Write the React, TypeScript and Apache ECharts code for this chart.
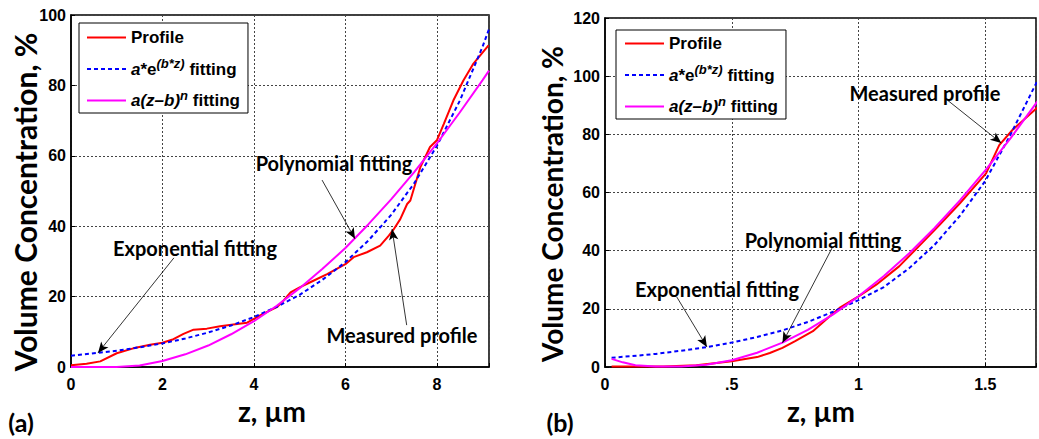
import React, { useEffect, useRef } from "react";
import * as echarts from "echarts";

// ---------- Panel (a) data ----------
const profileAZ = [0, 0.34, 0.64, 1.0, 1.36, 1.73, 2.0, 2.24, 2.46, 2.68, 2.97, 3.26, 3.55, 3.85, 4.0, 4.2, 4.5, 4.65, 4.8, 5.0, 5.3, 5.6, 6.0, 6.18, 6.47, 6.76, 6.95, 7.05, 7.2, 7.35, 7.42, 7.64, 7.85, 8.0, 8.15, 8.36, 8.58, 8.8, 8.98, 9.13];
const profileAV = [0.5, 0.9, 1.6, 3.9, 5.3, 6.3, 6.9, 7.9, 9.4, 10.6, 10.9, 11.6, 12.1, 12.6, 13.7, 15.1, 17, 18.9, 21.2, 22.6, 24.5, 26.4, 29.2, 31.2, 32.6, 34.5, 37.3, 39, 42, 46.3, 47.3, 56.8, 62.5, 64.4, 69, 75.7, 81.4, 86.2, 89, 91.4];
const fitAZ = [0, 0.5, 1, 1.5, 2, 2.5, 3, 3.5, 4, 4.5, 5, 5.5, 6, 6.5, 7, 7.5, 8, 8.5, 9, 9.14];
const expAV = [3.2, 3.9, 4.6, 5.6, 6.7, 8.1, 9.8, 11.8, 14.2, 17.1, 20.5, 24.8, 29.8, 35.9, 43.2, 52.1, 62.8, 75.6, 91, 96];
const polyAV = [0, 0, 0, 0.45, 1.7, 3.6, 6.1, 9.3, 13, 17.4, 22.4, 27.9, 33.8, 40.5, 47.6, 55.3, 63.5, 72.3, 81.5, 84.2];

// ---------- Panel (b) data ----------
const profileBZ = [0.026, 0.23, 0.36, 0.44, 0.5, 0.6, 0.65, 0.7, 0.75, 0.82, 0.88, 0.925, 1.0, 1.07, 1.16, 1.25, 1.32, 1.4, 1.503, 1.555, 1.607, 1.709];
const profileBV = [0.2, 0.2, 0.6, 1.4, 2.0, 3.4, 4.8, 6.6, 8.9, 12.3, 16.9, 20.3, 24.3, 28.3, 34.6, 42.6, 48.9, 56.3, 66.6, 76.3, 81.5, 89.5];
const expBZ = [0.026, 0.1, 0.2, 0.3, 0.4, 0.5, 0.6, 0.7, 0.8, 0.9, 1.0, 1.1, 1.2, 1.3, 1.4, 1.5, 1.6, 1.709];
const expBV = [3.2, 3.7, 4.5, 5.6, 6.8, 8.4, 10.3, 12.6, 15.5, 19, 23, 27.5, 34, 42, 52, 64, 80, 99];
const polyBZ = [0.026, 0.07, 0.12, 0.2, 0.3, 0.4, 0.5, 0.6, 0.7, 0.8, 0.9, 1.0, 1.1, 1.2, 1.3, 1.4, 1.5, 1.6, 1.709];
const polyBV = [2.8, 1.6, 0.6, 0.2, 0.2, 0.8, 2.3, 4.9, 8.4, 12.8, 18.1, 24.3, 31.3, 39.1, 47.8, 57.3, 67.6, 78.7, 91.7];

// ---------- Axis ticks ----------
const xTicksA = [0, 2, 4, 6, 8];
const xTickLabelsB: Record<string, string> = { "0": "0", "0.5": ".5", "1": "1", "1.5": "1.5" };

// ---------- Annotations: [text, fromX, fromY, toX, toY] in data units ----------
const annotA: [string, number, number, number, number][] = [
  ["Exponential fitting", 2.25, 31, 0.59, 4.0],
  ["Polynomial fitting", 5.49, 53.1, 6.21, 36.4],
  ["Measured profile", 7.34, 11.9, 7.02, 39.2],
];
const annotB: [string, number, number, number, number][] = [
  ["Exponential fitting", 0.283, 24.1, 0.402, 6.9],
  ["Polynomial fitting", 0.898, 41.3, 0.70, 8.3],
  ["Measured profile", 1.35, 91.8, 1.563, 77],
];

const NAME_P = "Profile";
const NAME_E = "a*e^(b*z) fitting";
const NAME_N = "a(z–b)^n fitting";

const TICK_FONT = '"Liberation Sans", Arial, sans-serif';
const CAL_FONT = 'Lato, "Open Sans", sans-serif';

const zip = (xs: number[], ys: number[]) => xs.map((x, i) => [x, ys[i]]);

function App() {
  const ref = useRef<HTMLDivElement>(null);
  useEffect(() => {
    if (!ref.current) return;
    const chart = echarts.init(ref.current, null, { renderer: "svg" });

    const grids = [
      { left: 71, top: 15, width: 418, height: 352 },
      { left: 605, top: 18, width: 432, height: 349 },
    ];

    const xAxisBase = (gi: number) => ({
      gridIndex: gi,
      type: "value",
      min: 0,
      axisLine: { show: true, onZero: false, lineStyle: { color: "#000", width: 1.5 } },
      axisTick: { show: true, inside: true, length: 4, lineStyle: { color: "#000" } },
      splitLine: { show: true, lineStyle: { color: "#444", type: [2, 2], width: 1 } },
      axisLabel: { color: "#000", fontFamily: TICK_FONT, fontWeight: "bold", fontSize: 16, margin: 9 },
    });
    const yAxisBase = (gi: number, max: number) => ({
      gridIndex: gi,
      type: "value",
      min: 0,
      max,
      interval: 20,
      axisLine: { show: true, lineStyle: { color: "#000", width: 1.5 } },
      axisTick: { show: true, inside: true, length: 4, lineStyle: { color: "#000" } },
      splitLine: { show: true, lineStyle: { color: "#444", type: [2, 2], width: 1 } },
      axisLabel: { color: "#000", fontFamily: TICK_FONT, fontWeight: "bold", fontSize: 16, margin: 5 },
    });

    const arrowLines = (ann: [string, number, number, number, number][]) => ({
      silent: true,
      symbol: ["none", "arrow"],
      symbolSize: [7, 11],
      label: { show: false },
      lineStyle: { color: "#000", width: 0.8, type: "solid" },
      data: ann.map((a) => [{ coord: [a[1], a[2]] }, { coord: [a[3], a[4]] }]),
    });

    const lineSeries = (name: string, data: number[][], gi: number, color: string, dashed: boolean, extra: any = {}) => ({
      name,
      type: "line",
      xAxisIndex: gi,
      yAxisIndex: gi,
      data,
      symbol: "none",
      smooth: false,
      lineStyle: { color, width: 2, type: dashed ? [4, 3] : "solid" },
      itemStyle: { color },
      ...extra,
    });

    const legendFormatter = (name: string) => {
      if (name === NAME_P) return "{n|Profile}";
      if (name === NAME_E) return "{i|a}{n|*e}{sup|(b*z)}{n| fitting}";
      return "{i|a(z–b)}{supi|n}{n| fitting}";
    };
    const legendRich = {
      n: { fontFamily: TICK_FONT, fontWeight: "bold", fontSize: 17, color: "#000", lineHeight: 24 },
      i: { fontFamily: TICK_FONT, fontWeight: "bold", fontStyle: "italic", fontSize: 17, color: "#000", lineHeight: 24 },
      sup: { fontFamily: TICK_FONT, fontWeight: "bold", fontStyle: "italic", fontSize: 13, color: "#000", verticalAlign: "top" },
      supi: { fontFamily: TICK_FONT, fontWeight: "bold", fontStyle: "italic", fontSize: 13, color: "#000", verticalAlign: "top" },
    };
    const legendBase = (left: number, top: number, pad: number[]) => ({
      data: [NAME_P, NAME_E, NAME_N],
      orient: "vertical",
      left,
      top,
      itemWidth: 39,
      itemHeight: 10,
      itemGap: 11,
      padding: pad,
      borderColor: "#000",
      borderWidth: 1,
      backgroundColor: "#fff",
      selectedMode: false,
      itemStyle: { opacity: 0, borderWidth: 0 },
      formatter: legendFormatter,
      textStyle: { color: "#000", fontFamily: TICK_FONT, fontWeight: "bold", fontSize: 17, rich: legendRich },
    });

    const annotText = (ann: string, x: number, y: number) => ({
      type: "text",
      x,
      y,
      style: {
        text: ann,
        fill: "#000",
        font: `bold 20px ${CAL_FONT}`,
        textAlign: "center",
        textVerticalAlign: "middle",
      },
      z: 100,
    });
    const plainText = (text: string, x: number, y: number, size: number, rotation = 0) => ({
      type: "text",
      x,
      y,
      rotation,
      style: {
        text,
        fill: "#000",
        font: `bold ${size}px ${CAL_FONT}`,
        textAlign: "center",
        textVerticalAlign: "middle",
      },
      z: 100,
    });

    chart.setOption({
      animation: false,
      backgroundColor: "#fff",
      grid: grids.map((g) => ({ ...g, show: true, borderColor: "#000", borderWidth: 1.5, backgroundColor: "transparent" })),
      xAxis: [
        {
          ...xAxisBase(0),
          max: 9.14,
          interval: 2,
          axisLabel: {
            ...xAxisBase(0).axisLabel,
            formatter: (v: number) => (xTicksA.indexOf(v) >= 0 ? String(v) : ""),
          },
        },
        {
          ...xAxisBase(1),
          max: 1.7,
          interval: 0.5,
          axisLabel: {
            ...xAxisBase(1).axisLabel,
            formatter: (v: number) => xTickLabelsB[String(v)] ?? "",
          },
        },
      ],
      yAxis: [yAxisBase(0, 100), yAxisBase(1, 120)],
      legend: [legendBase(79, 23, [6, 8, 4, 7]), legendBase(616, 30, [5, 8, 4, 8])],
      series: [
        lineSeries(NAME_P, zip(profileAZ, profileAV), 0, "#ff0000", false, { markLine: arrowLines(annotA) }),
        lineSeries(NAME_E, zip(fitAZ, expAV), 0, "#0000ff", true),
        lineSeries(NAME_N, zip(fitAZ, polyAV), 0, "#ff00ff", false),
        lineSeries(NAME_P, zip(profileBZ, profileBV), 1, "#ff0000", false, { markLine: arrowLines(annotB) }),
        lineSeries(NAME_E, zip(expBZ, expBV), 1, "#0000ff", true),
        lineSeries(NAME_N, zip(polyBZ, polyBV), 1, "#ff00ff", false),
      ],
      graphic: [
        annotText(annotA[0][0], 195, 248),
        annotText(annotA[1][0], 334, 163),
        annotText(annotA[2][0], 402, 335),
        annotText(annotB[0][0], 717, 289),
        annotText(annotB[1][0], 823, 240),
        annotText(annotB[2][0], 925, 93),
        plainText("Volume Concentration, %", 25, 202, 30, Math.PI / 2),
        plainText("Volume Concentration, %", 552, 204, 28, Math.PI / 2),
        plainText("z, µm", 272, 411, 28),
        plainText("z, µm", 821, 411, 28),
        plainText("(a)", 21, 422, 25),
        plainText("(b)", 560, 422, 25),
      ],
    });
    return () => chart.dispose();
  }, []);
  return <div ref={ref} style={{ position: "absolute", left: 0, top: 0, width: 1039, height: 439 }} />;
}

export default App;
